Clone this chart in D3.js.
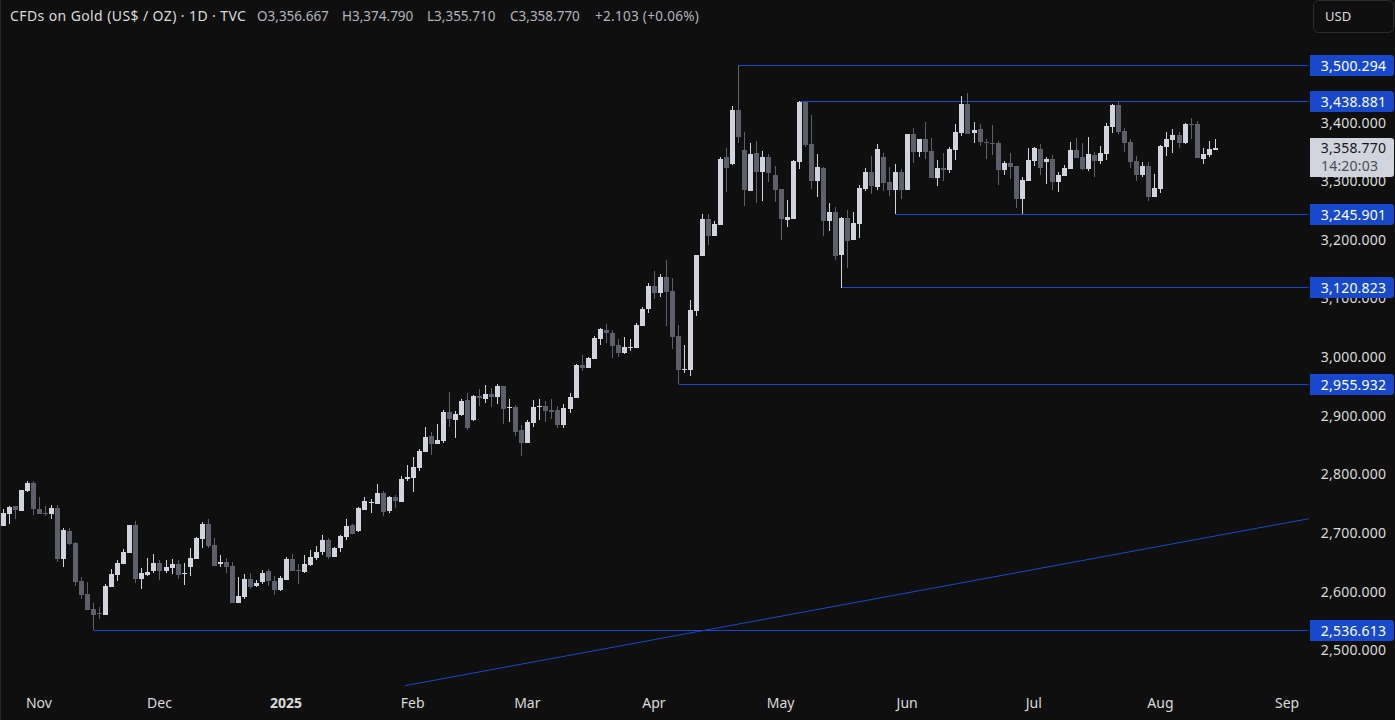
<!DOCTYPE html>
<html>
<head>
<meta charset="utf-8">
<script src="https://cdn.jsdelivr.net/npm/d3@7"></script>
<style>
  html, body { margin: 0; padding: 0; background: #0f0f0f; overflow: hidden; }
  text { font-family: "Noto Sans", sans-serif; }
</style>
</head>
<body>
<svg id="svg" width="1395" height="720"></svg>
<script>
// daily OHLC
const opens = [
  2714.5,2735.0,2748.6,2740.1,2774.2,2787.8,2743.5,2736.7,2735.0,2745.2,
  2658.2,2706.0,2685.5,2620.7,2598.5,2572.9,2566.1,2562.7,2610.5,2630.9,
  2649.7,2668.4,2716.2,2624.1,2630.9,2637.7,2651.4,2637.7,2642.9,2649.7,
  2632.6,2644.6,2658.2,2692.3,2717.9,2682.1,2649.7,2653.1,2646.3,2583.2,
  2593.4,2624.1,2612.2,2619.0,2637.7,2620.7,2605.3,2622.4,2658.2,2639.5,
  2636.1,2648.0,2660.0,2670.2,2690.6,2661.6,2677.0,2695.8,2716.2,2706.0,
  2741.8,2753.8,2752.1,2770.8,2740.1,2764.0,2755.5,2794.7,2796.4,2813.5,
  2840.7,2868.0,2854.4,2859.5,2909.0,2895.3,2903.9,2929.4,2895.3,2936.3,
  2931.1,2939.7,2934.6,2953.3,2915.8,2917.5,2878.3,2856.1,2890.2,2917.5,
  2919.2,2912.4,2912.4,2886.8,2914.1,2932.9,2989.2,2984.1,2999.4,3033.5,
  3048.9,3043.8,3023.3,3009.6,3018.2,3018.2,3055.7,3084.7,3123.9,3112.0,
  3139.3,3115.4,3038.6,2980.7,2980.7,3081.3,3175.1,3238.2,3209.2,3228.0,
  3343.9,3332.0,3424.1,3355.9,3285.9,3350.8,3318.3,3343.9,3313.2,3289.4,
  3236.5,3238.2,3335.4,3437.7,3366.1,3303.0,3325.1,3234.8,3250.1,3176.8,
  3239.9,3202.3,3229.6,3289.3,3318.3,3292.7,3343.9,3301.3,3287.6,3318.3,
  3287.6,3383.1,3352.4,3374.6,3354.1,3308.1,3325.1,3321.7,3355.8,3384.8,
  3434.3,3384.8,3391.7,3369.5,3367.8,3367.8,3321.7,3333.7,3328.6,3272.3,
  3303.0,3337.1,3357.5,3335.4,3340.5,3301.3,3311.5,3323.4,3355.8,3343.9,
  3323.4,3347.3,3337.1,3349.0,3395.1,3432.6,3388.2,3369.5,3337.1,3313.2,
  3328.6,3275.7,3289.3,3361.0,3372.9,3381.4,3367.8,3400.2,3400.2,3340.5,
  3347.3,3356.667
]
const closes = [
  2736.7,2746.9,2741.8,2775.9,2787.8,2743.5,2735.0,2735.0,2745.2,2658.2,
  2707.7,2683.8,2619.0,2596.8,2571.2,2562.7,2564.4,2612.2,2632.6,2651.4,
  2670.1,2716.2,2624.1,2634.3,2636.0,2651.4,2637.7,2644.6,2649.7,2630.9,
  2634.3,2659.9,2694.0,2717.9,2680.4,2646.3,2653.1,2644.6,2583.2,2595.1,
  2624.1,2610.5,2617.3,2634.3,2620.7,2605.3,2625.8,2658.2,2637.7,2637.2,
  2649.7,2661.6,2670.2,2690.6,2661.6,2677.0,2697.5,2714.5,2700.9,2745.2,
  2757.2,2755.5,2770.8,2738.4,2764.0,2757.2,2794.7,2798.1,2815.2,2842.5,
  2866.3,2854.4,2861.2,2909.0,2897.0,2905.6,2927.7,2881.7,2936.3,2933.4,
  2939.7,2934.6,2953.3,2914.1,2917.5,2874.9,2856.1,2891.9,2917.5,2919.2,
  2910.7,2909.0,2886.8,2915.8,2934.6,2989.2,2984.1,3001.1,3035.2,3050.6,
  3043.8,3021.6,3009.6,3019.9,3019.9,3057.4,3084.7,3123.9,3112.0,3139.3,
  3113.7,3036.9,2980.7,2982.4,3083.0,3176.8,3238.2,3209.2,3229.7,3340.5,
  3325.2,3424.1,3378.0,3287.7,3349.0,3318.3,3343.9,3316.6,3287.7,3238.2,
  3241.6,3337.1,3437.7,3364.4,3303.0,3326.8,3234.8,3250.1,3175.1,3239.9,
  3200.6,3231.3,3291.0,3318.3,3294.4,3357.5,3299.6,3287.6,3318.3,3287.6,
  3383.1,3352.4,3374.6,3352.4,3308.1,3325.1,3321.7,3357.5,3386.5,3434.3,
  3383.1,3390.0,3369.5,3367.8,3366.1,3321.7,3333.7,3326.8,3272.3,3304.7,
  3338.8,3359.3,3325.1,3340.5,3301.3,3313.2,3325.1,3355.8,3342.2,3323.4,
  3349.0,3337.1,3350.7,3396.8,3432.6,3386.5,3367.8,3335.4,3313.2,3328.6,
  3275.7,3291.0,3362.7,3374.6,3381.4,3367.8,3400.2,3398.5,3342.2,3349.0,
  3357.5,3358.77
]
const highs = [
  2742.9,2748.6,2748.6,2775.9,2791.2,2791.2,2764.0,2748.6,2750.3,2750.3,
  2711.1,2711.1,2687.2,2627.5,2619.0,2583.2,2576.4,2615.6,2641.2,2656.5,
  2675.3,2716.2,2723.0,2642.9,2659.9,2666.7,2656.5,2656.5,2658.2,2656.5,
  2651.4,2677.0,2695.7,2721.3,2726.4,2694.0,2665.0,2659.9,2653.1,2627.5,
  2632.6,2634.3,2622.4,2639.5,2641.2,2629.2,2629.2,2661.6,2666.7,2649.7,
  2665.1,2673.6,2680.4,2699.2,2694.1,2678.7,2699.2,2726.5,2718.0,2746.9,
  2764.0,2760.6,2786.2,2774.2,2765.7,2767.4,2799.8,2818.6,2832.2,2845.9,
  2883.4,2874.9,2888.5,2912.4,2943.1,2910.7,2931.1,2941.4,2938.0,2948.2,
  2955.0,2949.9,2956.7,2953.3,2931.1,2920.9,2886.8,2895.3,2929.4,2931.1,
  2927.7,2931.1,2919.2,2922.6,2941.4,2990.9,3006.2,3002.8,3038.6,3052.3,
  3059.1,3048.9,3033.5,3036.9,3033.5,3060.8,3088.1,3129.0,3149.5,3144.4,
  3168.3,3137.6,3057.4,3023.3,3100.0,3176.8,3246.7,3246.7,3234.8,3343.9,
  3359.3,3430.9,3500.294,3386.6,3367.8,3371.2,3354.2,3349.0,3328.6,3289.4,
  3270.6,3338.8,3438.881,3438.881,3415.5,3349.0,3326.8,3265.5,3258.6,3241.6,
  3253.5,3250.1,3296.2,3325.1,3345.6,3366.1,3350.7,3326.8,3332.0,3323.4,
  3383.1,3393.4,3374.6,3403.6,3376.3,3338.8,3350.7,3361.0,3400.2,3447.9,
  3453.0,3403.6,3400.2,3374.6,3398.5,3371.2,3337.1,3350.7,3328.6,3309.8,
  3359.3,3361.0,3366.1,3343.9,3347.3,3318.3,3330.3,3369.5,3376.3,3367.8,
  3378.0,3352.4,3362.7,3401.9,3434.3,3439.4,3393.4,3374.6,3345.6,3335.4,
  3335.4,3314.9,3364.4,3386.5,3391.7,3386.5,3401.9,3410.4,3405.3,3359.3,
  3371.2,3374.79
]
const lows = [
  2714.5,2717.9,2726.4,2740.1,2772.5,2733.3,2735.0,2731.5,2726.4,2653.1,
  2644.6,2682.1,2612.2,2590.0,2571.2,2536.613,2555.9,2562.7,2610.5,2620.7,
  2649.7,2668.4,2617.3,2607.0,2629.2,2634.3,2622.4,2634.3,2632.6,2624.1,
  2613.9,2629.2,2658.2,2677.0,2677.0,2646.3,2644.6,2634.3,2583.2,2583.2,
  2590.0,2607.0,2610.5,2615.6,2612.2,2596.8,2603.6,2622.4,2637.7,2615.6,
  2634.4,2646.3,2656.5,2665.1,2658.2,2661.6,2670.2,2690.7,2700.9,2704.3,
  2741.8,2736.7,2752.1,2731.6,2736.7,2745.2,2755.5,2791.3,2772.5,2808.3,
  2840.7,2835.6,2854.4,2856.1,2883.4,2864.6,2902.1,2878.3,2893.6,2919.2,
  2924.3,2917.5,2922.6,2888.5,2891.9,2868.0,2833.9,2856.1,2883.4,2895.3,
  2891.9,2897.0,2881.7,2881.7,2907.3,2932.9,2979.0,2984.1,2999.4,3023.3,
  3026.7,3001.1,3002.8,3007.9,3013.1,3018.2,3055.7,3077.9,3101.8,3105.2,
  3055.7,3016.5,2955.932,2975.6,2970.4,3072.8,3175.1,3193.8,3209.2,3228.0,
  3284.2,3330.3,3367.8,3260.4,3285.9,3265.5,3268.9,3301.3,3267.2,3202.4,
  3224.5,3238.2,3323.5,3361.0,3289.3,3275.7,3209.2,3217.7,3168.2,3120.823,
  3154.6,3202.3,3205.8,3285.9,3280.8,3287.6,3285.9,3277.4,3245.901,3272.3,
  3287.6,3333.7,3343.9,3340.5,3308.1,3294.4,3303.0,3316.6,3338.8,3379.7,
  3383.1,3367.8,3362.7,3340.5,3347.3,3296.2,3313.2,3306.4,3256.9,3246.7,
  3303.0,3328.6,3313.2,3297.9,3287.6,3284.2,3311.5,3323.4,3342.2,3321.7,
  3320.0,3309.8,3332.0,3338.8,3384.8,3383.1,3352.4,3325.1,3303.0,3309.8,
  3268.9,3275.7,3282.5,3345.6,3350.7,3359.3,3366.1,3374.6,3342.2,3332.0,
  3343.9,3355.71
]

const priceTicks = [2500, 2600, 2700, 2800, 2900, 3000, 3100, 3200, 3300, 3400]
const monthLabels = ['Nov', 'Dec', '2025', 'Feb', 'Mar', 'Apr', 'May', 'Jun', 'Jul', 'Aug', 'Sep']
const monthBars = [7, 27, 48, 69, 88, 109, 130, 151, 172, 193, 214]

// horizontal levels: price and the bar each one starts from
const levelPrices = [3500.294, 3438.881, 3245.901, 3120.823, 2955.932, 2536.613]
const levelBars = [123, 133, 149, 140, 113, 16]

// rising trend line, bar and price at each end
const trendBars = [67.7, 217.6]
const trendPrices = [2442.2, 2727.0]

const lastPrice = 3358.77
const countdown = '14:20:03'
const titleText = 'CFDs on Gold (US$ / OZ) · 1D · TVC'
const ohlcLabels = ['O', 'H', 'L', 'C']
const ohlcValues = [3356.667, 3374.79, 3355.71, 3358.77]
const changeText = '+2.103 (+0.06%)'

const upColor = '#d1d4dc'
const downColor = '#5d606b'
const levelColor = '#1848cc'
const textColor = '#dbdbdb'

const fmt = d3.format(',.3f')
const svg = d3.select('#svg')

const x = d3.scaleLinear().domain([1, 202]).range([2.7, 1214.7])
const y = d3.scaleLinear().domain([2500, 3500.294]).range([651.8, 65.3])
const plotRight = 1308.5

svg.append('rect').attr('width', 1395).attr('height', 720).attr('fill', '#0f0f0f')
svg.append('rect').attr('width', 1).attr('height', 720).attr('fill', '#2a2a2a')

// levels go under the candles
svg.selectAll('.level')
  .data(levelPrices)
  .enter()
  .append('line')
  .attr('class', 'level')
  .attr('x1', (d, i) => Math.round(x(levelBars[i])) + 0.5)
  .attr('x2', plotRight)
  .attr('y1', d => Math.floor(y(d)) + 0.5)
  .attr('y2', d => Math.floor(y(d)) + 0.5)
  .attr('stroke', levelColor)

svg.append('line')
  .attr('x1', x(trendBars[0]))
  .attr('y1', y(trendPrices[0]))
  .attr('x2', x(trendBars[1]))
  .attr('y2', y(trendPrices[1]))
  .attr('stroke', levelColor)

// candles
const candles = svg.selectAll('.candle')
  .data(closes)
  .enter()
  .append('g')
  .attr('class', 'candle')
  .attr('fill', (d, i) => (d >= opens[i] ? upColor : downColor))
  .attr('shape-rendering', 'crispEdges')

candles.append('rect')
  .attr('x', (d, i) => Math.round(x(i + 1)))
  .attr('width', 1)
  .attr('y', (d, i) => y(highs[i]))
  .attr('height', (d, i) => y(lows[i]) - y(highs[i]))

candles.append('rect')
  .attr('x', (d, i) => Math.round(x(i + 1)) - 2)
  .attr('width', 5)
  .attr('y', (d, i) => y(Math.max(opens[i], d)))
  .attr('height', (d, i) => Math.max(1, Math.abs(y(opens[i]) - y(d))))

// axes
const rightAxis = d3.axisRight(y)
  .tickValues(priceTicks)
  .tickFormat(fmt)
  .tickSize(0)
  .tickPadding(0)

const yAxis = svg.append('g').attr('transform', 'translate(1353.5,-1.5)').call(rightAxis)
yAxis.select('.domain').remove()
yAxis.selectAll('text')
  .attr('text-anchor', 'middle')
  .attr('fill', textColor)
  .attr('font-size', 14)
  .attr('letter-spacing', 0.2)
  .attr('font-family', '"Noto Sans", sans-serif')

const bottomAxis = d3.axisBottom(x)
  .tickValues(monthBars)
  .tickFormat((d, i) => monthLabels[i])
  .tickSize(0)
  .tickPadding(0)

const xAxis = svg.append('g').attr('transform', 'translate(-0.5,698)').call(bottomAxis)
xAxis.select('.domain').remove()
xAxis.selectAll('text')
  .attr('fill', textColor)
  .attr('font-size', 14)
  .attr('font-family', '"Noto Sans", sans-serif')
  .attr('font-weight', (d, i) => (monthLabels[i] === '2025' ? 700 : 400))

// level tags on the price scale
const tags = svg.selectAll('.tag')
  .data(levelPrices)
  .enter()
  .append('g')
  .attr('class', 'tag')
  .attr('transform', d => `translate(1310,${Math.floor(y(d)) - 10})`)

tags.append('path')
  .attr('d', 'M0,0H81a3,3 0 0 1 3,3V18a3,3 0 0 1 -3,3H0Z')
  .attr('fill', levelColor)

tags.append('text')
  .attr('x', 43.5)
  .attr('y', 15.5)
  .attr('text-anchor', 'middle')
  .attr('fill', '#ffffff')
  .attr('font-size', 14)
  .attr('letter-spacing', 0.2)
  .text(d => fmt(d))

// last price box
const lastBox = svg.append('g').attr('transform', 'translate(1310,138)')
lastBox.append('path')
  .attr('d', 'M0,0H81a3,3 0 0 1 3,3V36a3,3 0 0 1 -3,3H0Z')
  .attr('fill', upColor)
lastBox.append('text')
  .attr('x', 43.5)
  .attr('y', 15)
  .attr('text-anchor', 'middle')
  .attr('fill', '#131722')
  .attr('font-size', 14)
  .attr('letter-spacing', 0.2)
  .text(fmt(lastPrice))
lastBox.append('text')
  .attr('x', 11)
  .attr('y', 33)
  .attr('fill', '#4a4c55')
  .attr('font-size', 14)
  .attr('letter-spacing', 0.2)
  .text(countdown)

// currency button
svg.append('rect')
  .attr('x', 1313.5)
  .attr('y', 0.5)
  .attr('width', 80)
  .attr('height', 32)
  .attr('rx', 5)
  .attr('fill', 'none')
  .attr('stroke', '#2e2e2e')
svg.append('text')
  .attr('x', 1325)
  .attr('y', 21)
  .attr('fill', textColor)
  .attr('font-size', 13)
  .text('USD')

// header line
const header = svg.append('g').attr('font-size', 13.5)
header.append('text')
  .attr('x', 10)
  .attr('y', 21)
  .attr('fill', textColor)
  .attr('font-size', 14)
  .attr('letter-spacing', 0.4)
  .text(titleText)

const ohlcX = [257, 342, 427, 510]
ohlcLabels.forEach((label, i) => {
  const t = header.append('text').attr('x', ohlcX[i]).attr('y', 21).attr('fill', '#b2b5be')
  t.append('tspan').text(label)
  t.append('tspan').text(fmt(ohlcValues[i]))
})
header.append('text')
  .attr('x', 595)
  .attr('y', 21)
  .attr('fill', '#b2b5be')
  .attr('letter-spacing', 0.3)
  .text(changeText)
</script>
</body>
</html>
